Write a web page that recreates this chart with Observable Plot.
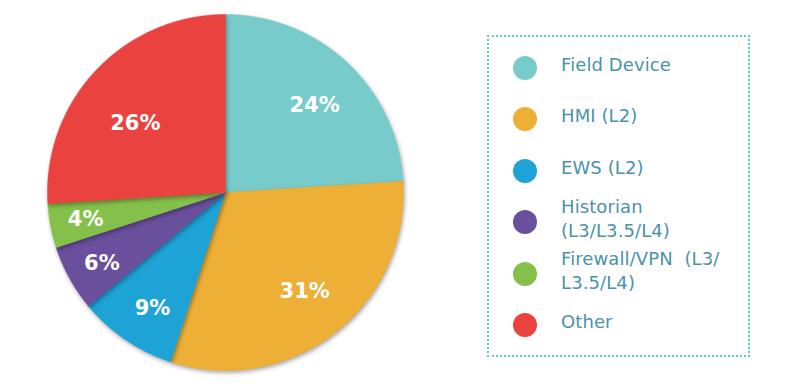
<!DOCTYPE html>
<html>
<head>
<meta charset="utf-8">
<script src="https://cdn.jsdelivr.net/npm/d3@7"></script>
<script src="https://cdn.jsdelivr.net/npm/@observablehq/plot@0.6"></script>
<style>
  html, body { margin: 0; padding: 0; background: #fff; }
  #wrap { position: relative; width: 800px; height: 386px; overflow: hidden; }
  #wrap svg g[aria-label="line"] path { filter: drop-shadow(1px 2px 2px rgba(0,0,0,0.35)); }
  #legend { position: absolute; left: 487px; top: 35px; width: 263px; height: 322px; box-sizing: border-box;
            border: 2px dotted #5cc8d0; font-family: "DejaVu Sans", sans-serif; }
  .item { position: absolute; left: 0; width: 100%; }
  .dot { position: absolute; left: 24px; width: 24px; height: 24px; border-radius: 50%; transform: translateY(-50%); }
  .lab { position: absolute; left: 72px; transform: translateY(-50%); margin-top: -3px; color: #4a93a8; font-size: 18px; line-height: 24px; white-space: pre; letter-spacing: 0.1px; }
</style>
</head>
<body>
<div id="wrap"></div>
<script>
const categories = ["Field Device", "HMI (L2)", "EWS (L2)", "Historian (L3/L3.5/L4)", "Firewall/VPN (L3/L3.5/L4)", "Other"];
const legendLabels = ["Field Device", "HMI (L2)", "EWS (L2)", "Historian\n(L3/L3.5/L4)", "Firewall/VPN  (L3/\nL3.5/L4)", "Other"];
const values = [24, 31, 9, 6, 4, 26];
const colors = ["#77cccb", "#edaf35", "#1ea3d6", "#6a4f9d", "#85c14a", "#ea423f"];
// label placement (fraction of radius, angular shift in degrees)
const labelRadius = [0.70, 0.71, 0.77, 0.80, 0.80, 0.64];
const labelShift = [2.5, -1, -2, -1, 0, -5.5];

const total = d3.sum(values);
const slices = [];
const labels = [];
let acc = 0;
values.forEach((v, i) => {
  const a0 = acc / total * 2 * Math.PI;
  acc += v;
  const a1 = acc / total * 2 * Math.PI;
  const n = Math.max(2, Math.ceil((a1 - a0) / (Math.PI / 360)));
  slices.push({cat: categories[i], x: 0, y: 0, k: 0});
  for (let j = 0; j <= n; j++) {
    const a = a0 + (a1 - a0) * j / n;
    slices.push({cat: categories[i], x: Math.sin(a), y: Math.cos(a), k: j + 1});
  }
  slices.push({cat: categories[i], x: 0, y: 0, k: n + 2});
  const am = (a0 + a1) / 2 + labelShift[i] * Math.PI / 180;
  const r = labelRadius[i];
  labels.push({cat: categories[i], x: r * Math.sin(am), y: r * Math.cos(am), text: v + "%"});
});

const cx = 225, cy = 192, R = 178;
const chart = Plot.plot({
  width: 800,
  height: 386,
  margin: 0,
  x: {domain: [-1, 1], range: [cx - R, cx + R], axis: null},
  y: {domain: [-1, 1], range: [cy + R, cy - R], axis: null},
  color: {domain: categories, range: colors},
  style: {background: "transparent", overflow: "visible"},
  marks: [
    Plot.line(slices, {x: "x", y: "y", z: "cat", fill: "cat", stroke: "cat", strokeWidth: 0.5, curve: "linear"}),
    Plot.text(labels, {x: "x", y: "y", text: "text", fill: "white", fontSize: 21, fontWeight: "bold",
      fontFamily: "DejaVu Sans, sans-serif", textAnchor: "middle", lineAnchor: "middle"})
  ]
});
const wrap = document.getElementById("wrap");
wrap.appendChild(chart);

const legend = document.createElement("div");
legend.id = "legend";
legendLabels.forEach((t, i) => {
  const item = document.createElement("div");
  item.className = "item";
  item.style.top = (31 + i * 51.4) + "px";
  const dot = document.createElement("div");
  dot.className = "dot";
  dot.style.background = colors[i];
  const lab = document.createElement("div");
  lab.className = "lab";
  lab.textContent = t;
  item.appendChild(dot);
  item.appendChild(lab);
  legend.appendChild(item);
});
wrap.appendChild(legend);
</script>
</body>
</html>
